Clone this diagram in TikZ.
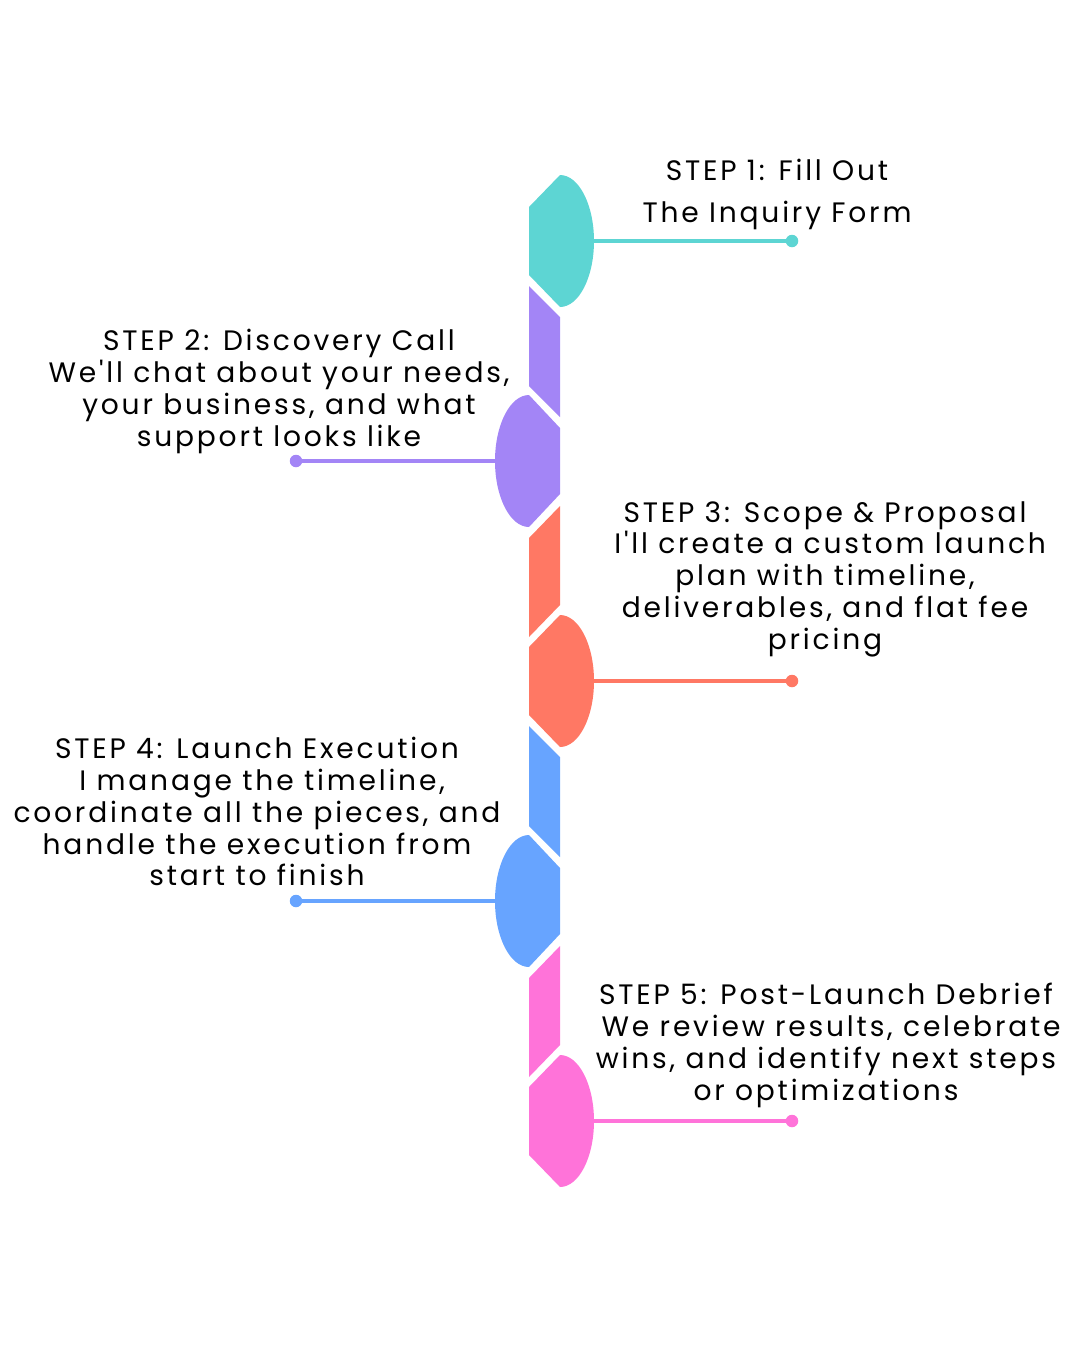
\documentclass[tikz,border=0pt]{standalone}
\usepackage{fontspec}
\setmainfont{Poppins}[LetterSpace=10, Ligatures=TeXOff]
\definecolor{stepone}{HTML}{5DD5D3}
\definecolor{steptwo}{HTML}{A385F6}
\definecolor{stepthree}{HTML}{FF7864}
\definecolor{stepfour}{HTML}{67A4FF}
\definecolor{stepfive}{HTML}{FF73D9}
\begin{document}
\begin{tikzpicture}[
		x=0.02cm, y=-0.02cm,
		steptext/.style={
			align=center,
			inner sep=0pt,
			anchor=north,
			font=\fontsize{16}{18.1}\selectfont
		},
		lead/.style={line width=2.5pt},
		enddot/.style={circle, fill, inner sep=0pt, minimum size=0.25cm}
		]
		\useasboundingbox (0,0) rectangle (1080,1350);
		
		% heads bulging to the right
		\foreach \c/\col in {241/stepone, 681/stepthree, 1121/stepfive} {
			\fill[\col] (529,\c-34) -- (560,\c-66)
				arc[start angle=-90, end angle=90, x radius=34, y radius=66]
				-- (529,\c+34) -- cycle;
		}
		% heads bulging to the left
		\foreach \c/\col in {461/steptwo, 901/stepfour} {
			\fill[\col] (560,\c-33) -- (529,\c-66)
				arc[start angle=-90, end angle=-270, x radius=34, y radius=66]
				-- (560,\c+33) -- cycle;
		}
		% stripes between the heads
		\foreach \c/\col in {241/steptwo, 681/stepfour} {
			\fill[\col] (529,\c+45) -- (560,\c+76) -- (560,\c+176) -- (529,\c+145) -- cycle;
		}
		\foreach \c/\col in {461/stepthree, 901/stepfive} {
			\fill[\col] (560,\c+45) -- (529,\c+77) -- (529,\c+176) -- (560,\c+144) -- cycle;
		}
		
		% leads and end dots
		\coordinate (tip1) at (593,241);
		\coordinate (tip2) at (496,461);
		\coordinate (tip3) at (593,681);
		\coordinate (tip4) at (496,901);
		\coordinate (tip5) at (593,1121);
		\node[enddot, stepone] (dot1) at (792,241) {};
		\node[enddot, steptwo] (dot2) at (296,461) {};
		\node[enddot, stepthree] (dot3) at (792,681) {};
		\node[enddot, stepfour] (dot4) at (296,901) {};
		\node[enddot, stepfive] (dot5) at (792,1121) {};
		\draw[lead, stepone] (tip1) -- (dot1.center);
		\draw[lead, steptwo] (tip2) -- (dot2.center);
		\draw[lead, stepthree] (tip3) -- (dot3.center);
		\draw[lead, stepfour] (tip4) -- (dot4.center);
		\draw[lead, stepfive] (tip5) -- (dot5.center);
		
		% texts
		\node[steptext, font=\fontsize{16}{23.8}\selectfont] (txt1) at (777,159)
			{STEP 1: Fill Out\\The Inquiry Form};
		\node[steptext] (txt2) at (279,329)
			{STEP 2: Discovery Call\\We'll chat about your needs,\\your business, and what\\support looks like};
		\node[steptext] (txt3) at (825,501)
			{STEP 3: Scope \& Proposal\\\ I'll create a custom launch\\plan with timeline,\\deliverables, and flat fee\\pricing};
		\node[steptext] (txt4) at (257,737)
			{STEP 4: Launch Execution\\\ I manage the timeline,\\coordinate all the pieces, and\\handle the execution from\\start to finish};
		\node[steptext] (txt5) at (826,983)
			{STEP 5: Post-Launch Debrief\\\ We review results, celebrate\\wins, and identify next steps\\or optimizations};
		
	\end{tikzpicture}
\end{document}
